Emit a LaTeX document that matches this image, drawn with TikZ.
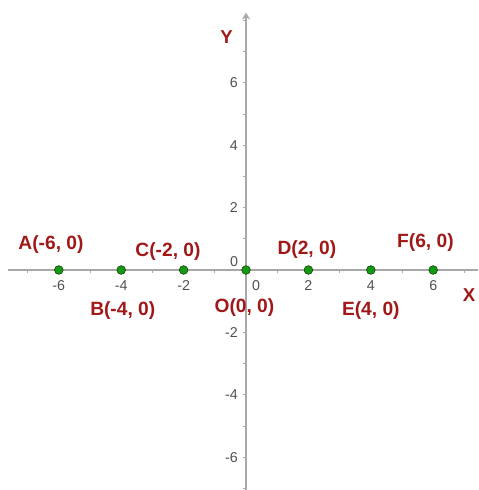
\documentclass[tikz,border=0pt]{standalone}
\usepackage{fontspec}
\setmainfont{Liberation Sans}
\usepackage{xcolor}
\usepackage{tikz}
\usetikzlibrary{positioning,arrows.meta}
\definecolor{axisgray}{HTML}{A8A8A8}
\definecolor{ticktext}{HTML}{505050}
\definecolor{labelred}{HTML}{A01818}
\definecolor{ptgreen}{HTML}{129A12}
\definecolor{ptborder}{HTML}{0E3A0E}
\tikzset{
    axisline/.style={draw=axisgray, line width=1.5pt},
    tickmark/.style={draw=axisgray, line width=0.9pt},
    ticklabel/.style={text=ticktext, font=\fontsize{13}{13}\selectfont, inner sep=1pt},
    ptdot/.style={circle, fill=ptgreen, draw=ptborder, line width=0.5pt,
        minimum size=0.28cm, inner sep=0pt},
    ptlabel/.style={text=labelred, font=\fontsize{17.5}{17.5}\selectfont\bfseries, inner sep=0pt},
    axislabel/.style={text=labelred, font=\fontsize{17}{17}\selectfont\bfseries, inner sep=0pt},
}

\begin{document}
\begin{tikzpicture}
    \useasboundingbox (-7.885,-7.051) rectangle (7.436,8.654);
    % axes
    \coordinate (xl) at (-7.62,0);
    \coordinate (xr) at (7.44,0);
    \coordinate (yb) at (0,-7.1);
    \coordinate (yt) at (0,8.25);
    \draw[axisline] (xl) -- (xr);
    \draw[axisline, -{Stealth[length=2.2mm,width=2.6mm]}] (yb) -- (yt);
    \foreach \t in {-7,...,7} {
        \draw[tickmark] (\t,0) -- (\t,-0.1);
    }
    \foreach \t in {-7,...,8} {
        \draw[tickmark] (0,\t) -- (-0.1,\t);
    }
    % tick labels
    \foreach \t in {-6,-4,-2,2,4,6} {
        \node[ticklabel] (xt\t) at (\t,-0.5) {\t};
        \node[ticklabel, anchor=east] (yt\t) at (-0.22,\t) {\t};
    }
    \node[ticklabel] (x0) at (0.32,-0.5) {0};
    \node[ticklabel] (y0) at (-0.38,0.27) {0};
    \node[axislabel] (xlab) at (7.15,-0.8) {X};
    \node[axislabel] (ylab) at (-0.62,7.45) {Y};
    % points
    \node[ptdot] (A) at (-6,0) {};
    \node[ptdot] (B) at (-4,0) {};
    \node[ptdot] (C) at (-2,0) {};
    \node[ptdot] (O) at (0,0) {};
    \node[ptdot] (D) at (2,0) {};
    \node[ptdot] (E) at (4,0) {};
    \node[ptdot] (F) at (6,0) {};
    \node[ptlabel] (Alab) at (-6.25,0.82) {A(-6, 0)};
    \node[ptlabel] (Blab) at (-3.95,-1.3) {B(-4, 0)};
    \node[ptlabel] (Clab) at (-2.5,0.6) {C(-2, 0)};
    \node[ptlabel] (Olab) at (-0.05,-1.2) {O(0, 0)};
    \node[ptlabel] (Dlab) at (1.95,0.65) {D(2, 0)};
    \node[ptlabel] (Elab) at (4.0,-1.3) {E(4, 0)};
    \node[ptlabel] (Flab) at (5.75,0.87) {F(6, 0)};
\end{tikzpicture}
\end{document}
